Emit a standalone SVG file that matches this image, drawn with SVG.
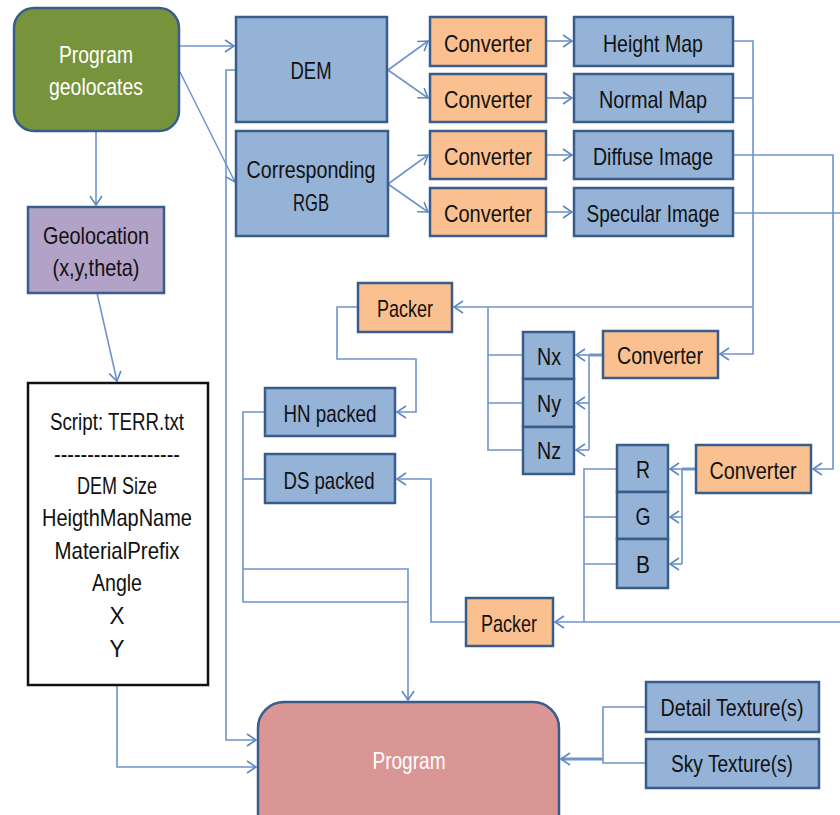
<svg xmlns="http://www.w3.org/2000/svg" width="840" height="815" viewBox="0 0 840 815">
  <defs>
    <marker id="arrow" markerUnits="userSpaceOnUse" markerWidth="12" markerHeight="14" refX="10" refY="7" orient="auto">
      <path d="M1,1 L10,7 L1,13" fill="none" stroke="#5f87c2" stroke-width="1.6"/>
    </marker>
    <style>
      .box { stroke: #385d8a; stroke-width: 2.5; }
      .blue { fill: #95b3d7; }
      .orange { fill: #fac090; }
      .t { font-family: "Liberation Sans", "Arial", sans-serif; font-size: 24px; fill: #111; text-anchor: middle; }
      .w { fill: #ffffff; }
      .conn path { fill: none; stroke: #6f94cb; stroke-width: 1.6; }
      .conn .thick { stroke-width: 3; }
    </style>
  </defs>
  <rect width="840" height="815" fill="#ffffff"/>

  <!-- connectors -->
  <g id="connectors" class="conn">
    <path d="M179,46 H234" marker-end="url(#arrow)"/>
    <path d="M180,72 L235,182" marker-end="url(#arrow)"/>
    <path d="M96,131 V205" marker-end="url(#arrow)"/>
    <path d="M97,293 L117,381" marker-end="url(#arrow)"/>
    <path d="M388,70 L428,41" marker-end="url(#arrow)"/>
    <path d="M388,70 L428,98" marker-end="url(#arrow)"/>
    <path d="M388,184 L428,155" marker-end="url(#arrow)"/>
    <path d="M388,184 L428,212" marker-end="url(#arrow)"/>
    <path d="M546,41 H572" marker-end="url(#arrow)"/>
    <path d="M546,98 H572" marker-end="url(#arrow)"/>
    <path d="M546,155 H572" marker-end="url(#arrow)"/>
    <path d="M546,212 H572" marker-end="url(#arrow)"/>
    <!-- height / normal maps -->
    <path d="M733,41 H753 V354 H720" marker-end="url(#arrow)"/>
    <path d="M733,98 H753"/>
    <path d="M753,307 H454" marker-end="url(#arrow)"/>
    <!-- diffuse / specular images -->
    <path d="M733,155 H833 V469 H813" marker-end="url(#arrow)"/>
    <path d="M733,213 H840"/>
    <path d="M840,622 H555" marker-end="url(#arrow)"/>
    <!-- normal converter to Nx/Ny/Nz -->
    <path class="thick" d="M603,355 H589"/>
    <path d="M589,355 V450"/>
    <path d="M589,355 H576" marker-end="url(#arrow)"/>
    <path d="M589,403 H576" marker-end="url(#arrow)"/>
    <path d="M589,450 H576" marker-end="url(#arrow)"/>
    <!-- Nx/Ny/Nz to packer -->
    <path d="M523,355 H488"/>
    <path d="M523,403 H488"/>
    <path d="M523,450 H488 V307"/>
    <!-- packer to HN packed -->
    <path d="M358,307 H337 V359 H416 V412 H397" marker-end="url(#arrow)"/>
    <!-- diffuse converter to R/G/B -->
    <path class="thick" d="M696,469 H682"/>
    <path d="M682,469 V564"/>
    <path d="M682,469 H670" marker-end="url(#arrow)"/>
    <path d="M682,517 H670" marker-end="url(#arrow)"/>
    <path d="M682,564 H670" marker-end="url(#arrow)"/>
    <!-- R/G/B to packer -->
    <path d="M617,469 H584 V622"/>
    <path d="M617,517 H584"/>
    <path d="M617,564 H584"/>
    <!-- packer to DS packed -->
    <path d="M466,622 H431 V479 H397" marker-end="url(#arrow)"/>
    <!-- packed maps to program -->
    <path d="M265,412 H243 V602 H408"/>
    <path d="M265,479 H243"/>
    <path d="M243,569 H408 V700" marker-end="url(#arrow)"/>
    <!-- DEM to program -->
    <path d="M236,70 H226 V740 H256" marker-end="url(#arrow)"/>
    <!-- script to program -->
    <path d="M117,685 V767 H256" marker-end="url(#arrow)"/>
    <!-- textures to program -->
    <path d="M646,707 H603 V763 H646"/>
    <path class="thick" d="M603,759 H561" marker-end="url(#arrow)"/>
  </g>

  <g id="program-geolocates">
    <rect class="box" x="14" y="8" width="165" height="123" rx="20" fill="#77933c"/>
    <text class="t w" x="96" y="63" textLength="74" lengthAdjust="spacingAndGlyphs">Program</text>
    <text class="t w" x="96" y="95" textLength="94" lengthAdjust="spacingAndGlyphs">geolocates</text>
  </g>

  <g id="geolocation">
    <rect class="box" x="28" y="207" width="136" height="86" fill="#b3a2c7"/>
    <text class="t" x="96" y="244" textLength="106" lengthAdjust="spacingAndGlyphs">Geolocation</text>
    <text class="t" x="96" y="276" textLength="87" lengthAdjust="spacingAndGlyphs">(x,y,theta)</text>
  </g>

  <g id="script">
    <rect x="28" y="383" width="180" height="302" fill="#ffffff" stroke="#111" stroke-width="2.5"/>
    <text class="t" x="117" y="430" textLength="134" lengthAdjust="spacingAndGlyphs">Script: TERR.txt</text>
    <text class="t" x="117" y="462" textLength="126" lengthAdjust="spacingAndGlyphs">-------------------</text>
    <text class="t" x="117" y="494" textLength="80" lengthAdjust="spacingAndGlyphs">DEM Size</text>
    <text class="t" x="117" y="526" textLength="150" lengthAdjust="spacingAndGlyphs">HeigthMapName</text>
    <text class="t" x="117" y="559" textLength="125" lengthAdjust="spacingAndGlyphs">MaterialPrefix</text>
    <text class="t" x="117" y="591" textLength="50" lengthAdjust="spacingAndGlyphs">Angle</text>
    <text class="t" x="117" y="624" textLength="15" lengthAdjust="spacingAndGlyphs">X</text>
    <text class="t" x="117" y="657" textLength="15" lengthAdjust="spacingAndGlyphs">Y</text>
  </g>

  <g id="dem">
    <rect class="box blue" x="236" y="17" width="151" height="105"/>
    <text class="t" x="311" y="79" textLength="41" lengthAdjust="spacingAndGlyphs">DEM</text>
  </g>
  <g id="rgb">
    <rect class="box blue" x="236" y="131" width="152" height="105"/>
    <text class="t" x="311" y="178" textLength="129" lengthAdjust="spacingAndGlyphs">Corresponding</text>
    <text class="t" x="311" y="211" textLength="36" lengthAdjust="spacingAndGlyphs">RGB</text>
  </g>

  <g id="converter-1">
    <rect class="box orange" x="430" y="17" width="116" height="49"/>
    <text class="t" x="488" y="52" textLength="88" lengthAdjust="spacingAndGlyphs">Converter</text>
  </g>
  <g id="converter-2">
    <rect class="box orange" x="430" y="74" width="116" height="48"/>
    <text class="t" x="488" y="108" textLength="88" lengthAdjust="spacingAndGlyphs">Converter</text>
  </g>
  <g id="converter-3">
    <rect class="box orange" x="430" y="131" width="116" height="48"/>
    <text class="t" x="488" y="165" textLength="88" lengthAdjust="spacingAndGlyphs">Converter</text>
  </g>
  <g id="converter-4">
    <rect class="box orange" x="430" y="188" width="116" height="48"/>
    <text class="t" x="488" y="222" textLength="88" lengthAdjust="spacingAndGlyphs">Converter</text>
  </g>

  <g id="height-map">
    <rect class="box blue" x="574" y="17" width="159" height="49"/>
    <text class="t" x="653" y="52" textLength="100" lengthAdjust="spacingAndGlyphs">Height Map</text>
  </g>
  <g id="normal-map">
    <rect class="box blue" x="574" y="74" width="159" height="48"/>
    <text class="t" x="653" y="108" textLength="108" lengthAdjust="spacingAndGlyphs">Normal Map</text>
  </g>
  <g id="diffuse-image">
    <rect class="box blue" x="574" y="131" width="159" height="48"/>
    <text class="t" x="653" y="165" textLength="120" lengthAdjust="spacingAndGlyphs">Diffuse Image</text>
  </g>
  <g id="specular-image">
    <rect class="box blue" x="574" y="188" width="159" height="48"/>
    <text class="t" x="653" y="222" textLength="133" lengthAdjust="spacingAndGlyphs">Specular Image</text>
  </g>

  <g id="packer-hn">
    <rect class="box orange" x="358" y="283" width="94" height="49"/>
    <text class="t" x="405" y="317" textLength="56" lengthAdjust="spacingAndGlyphs">Packer</text>
  </g>

  <g id="converter-normal">
    <rect class="box orange" x="603" y="331" width="115" height="47"/>
    <text class="t" x="660" y="364" textLength="86" lengthAdjust="spacingAndGlyphs">Converter</text>
  </g>

  <g id="nx">
    <rect class="box blue" x="523" y="332" width="51" height="47"/>
    <text class="t" x="549" y="365" textLength="24" lengthAdjust="spacingAndGlyphs">Nx</text>
  </g>
  <g id="ny">
    <rect class="box blue" x="523" y="379" width="51" height="48"/>
    <text class="t" x="549" y="412" textLength="24" lengthAdjust="spacingAndGlyphs">Ny</text>
  </g>
  <g id="nz">
    <rect class="box blue" x="523" y="427" width="51" height="47"/>
    <text class="t" x="549" y="459" textLength="24" lengthAdjust="spacingAndGlyphs">Nz</text>
  </g>

  <g id="hn-packed">
    <rect class="box blue" x="265" y="388" width="130" height="48"/>
    <text class="t" x="330" y="422" textLength="93" lengthAdjust="spacingAndGlyphs">HN packed</text>
  </g>
  <g id="ds-packed">
    <rect class="box blue" x="265" y="454" width="130" height="49"/>
    <text class="t" x="329" y="489" textLength="91" lengthAdjust="spacingAndGlyphs">DS packed</text>
  </g>

  <g id="converter-diffuse">
    <rect class="box orange" x="696" y="445" width="115" height="48"/>
    <text class="t" x="753" y="479" textLength="87" lengthAdjust="spacingAndGlyphs">Converter</text>
  </g>

  <g id="r">
    <rect class="box blue" x="617" y="445" width="51" height="47"/>
    <text class="t" x="643" y="478" textLength="14" lengthAdjust="spacingAndGlyphs">R</text>
  </g>
  <g id="g">
    <rect class="box blue" x="617" y="492" width="51" height="47"/>
    <text class="t" x="643" y="525" textLength="15" lengthAdjust="spacingAndGlyphs">G</text>
  </g>
  <g id="b">
    <rect class="box blue" x="617" y="539" width="51" height="49"/>
    <text class="t" x="643" y="573" textLength="14" lengthAdjust="spacingAndGlyphs">B</text>
  </g>

  <g id="packer-ds">
    <rect class="box orange" x="466" y="598" width="87" height="48"/>
    <text class="t" x="509" y="632" textLength="56" lengthAdjust="spacingAndGlyphs">Packer</text>
  </g>

  <g id="detail-texture">
    <rect class="box blue" x="646" y="682" width="173" height="50"/>
    <text class="t" x="732" y="716" textLength="143" lengthAdjust="spacingAndGlyphs">Detail Texture(s)</text>
  </g>
  <g id="sky-texture">
    <rect class="box blue" x="646" y="739" width="173" height="49"/>
    <text class="t" x="732" y="772" textLength="122" lengthAdjust="spacingAndGlyphs">Sky Texture(s)</text>
  </g>

  <g id="program">
    <rect class="box" x="258" y="702" width="301" height="140" rx="26" fill="#d99694"/>
    <text class="t w" x="409" y="769" textLength="73" lengthAdjust="spacingAndGlyphs">Program</text>
  </g>
</svg>
